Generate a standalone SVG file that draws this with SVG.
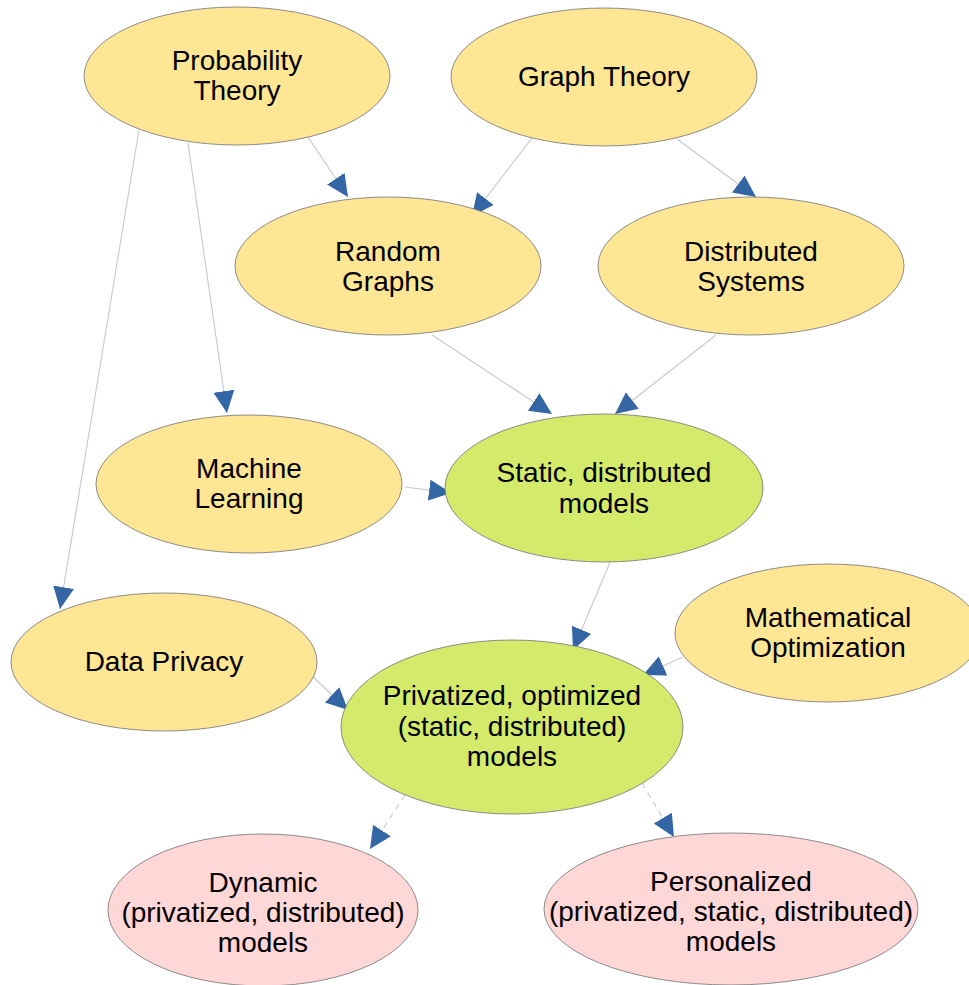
<svg xmlns="http://www.w3.org/2000/svg" width="969" height="985" viewBox="0 0 969 985">
<style>
.n ellipse{stroke:#7f7f7f;stroke-width:0.9}
.y{fill:#ffe694}
.g{fill:#d4ea6b}
.p{fill:#ffd7d7}
text{font-family:"Liberation Sans",Arial,sans-serif;font-size:28px;fill:#000;text-anchor:middle}
.e line{stroke:#c3c8d4;stroke-width:1.1;fill:none;marker-end:url(#ah)}
.e .d{stroke-dasharray:6,5}
</style>
<defs>
<marker id="ah" markerUnits="userSpaceOnUse" markerWidth="24" markerHeight="22" refX="22" refY="10.5" orient="auto" viewBox="0 0 24 22">
<path d="M0,0 L22,10.5 L0,21 z" fill="#3465a4"/>
</marker>
</defs>
<rect width="969" height="985" fill="#fff"/>
<g id="edges" class="e">
<line x1="308" y1="137" x2="348" y2="197"/>
<line x1="532" y1="138" x2="472" y2="216"/>
<line x1="677" y1="139" x2="756" y2="197"/>
<line x1="188" y1="143" x2="227" y2="413"/>
<line x1="139" y1="130" x2="60" y2="609"/>
<line x1="432" y1="335" x2="552" y2="414"/>
<line x1="716" y1="335" x2="615" y2="414"/>
<line x1="405" y1="487" x2="451" y2="493"/>
<line x1="614" y1="553" x2="573" y2="650"/>
<line x1="683" y1="657" x2="643" y2="675"/>
<line x1="309" y1="673" x2="348" y2="710"/>
<line class="d" x1="405" y1="795" x2="370" y2="849"/>
<line class="d" x1="642" y1="783" x2="674" y2="837"/>
</g>
<g id="probability" class="n"><ellipse class="y" cx="237" cy="76" rx="153" ry="69"/><text x="237" y="70">Probability</text><text x="237" y="100">Theory</text></g>
<g id="graph" class="n"><ellipse class="y" cx="604" cy="77" rx="153" ry="69"/><text x="604" y="86">Graph Theory</text></g>
<g id="random" class="n"><ellipse class="y" cx="388" cy="266" rx="153" ry="69"/><text x="388" y="261">Random</text><text x="388" y="291">Graphs</text></g>
<g id="distributed" class="n"><ellipse class="y" cx="751" cy="266" rx="153" ry="69"/><text x="751" y="261">Distributed</text><text x="751" y="291">Systems</text></g>
<g id="ml" class="n"><ellipse class="y" cx="249" cy="484" rx="153" ry="69"/><text x="249" y="478">Machine</text><text x="249" y="508">Learning</text></g>
<g id="static" class="n"><ellipse class="g" cx="604" cy="488" rx="159" ry="74"/><text x="604" y="482">Static, distributed</text><text x="604" y="513">models</text></g>
<g id="privacy" class="n"><ellipse class="y" cx="164" cy="662" rx="153" ry="69"/><text x="164" y="671">Data Privacy</text></g>
<g id="optimization" class="n"><ellipse class="y" cx="828" cy="633" rx="153" ry="69"/><text x="828" y="627">Mathematical</text><text x="828" y="657">Optimization</text></g>
<g id="privatized" class="n"><ellipse class="g" cx="512" cy="727" rx="171" ry="87"/><text x="512" y="705">Privatized, optimized</text><text x="512" y="736">(static, distributed)</text><text x="512" y="766">models</text></g>
<g id="dynamic" class="n"><ellipse class="p" cx="263" cy="910" rx="155" ry="76"/><text x="263" y="892">Dynamic</text><text x="263" y="922">(privatized, distributed)</text><text x="263" y="952">models</text></g>
<g id="personalized" class="n"><ellipse class="p" cx="731" cy="909" rx="187" ry="76"/><text x="731" y="891">Personalized</text><text x="731" y="921">(privatized, static, distributed)</text><text x="731" y="951">models</text></g>
</svg>
